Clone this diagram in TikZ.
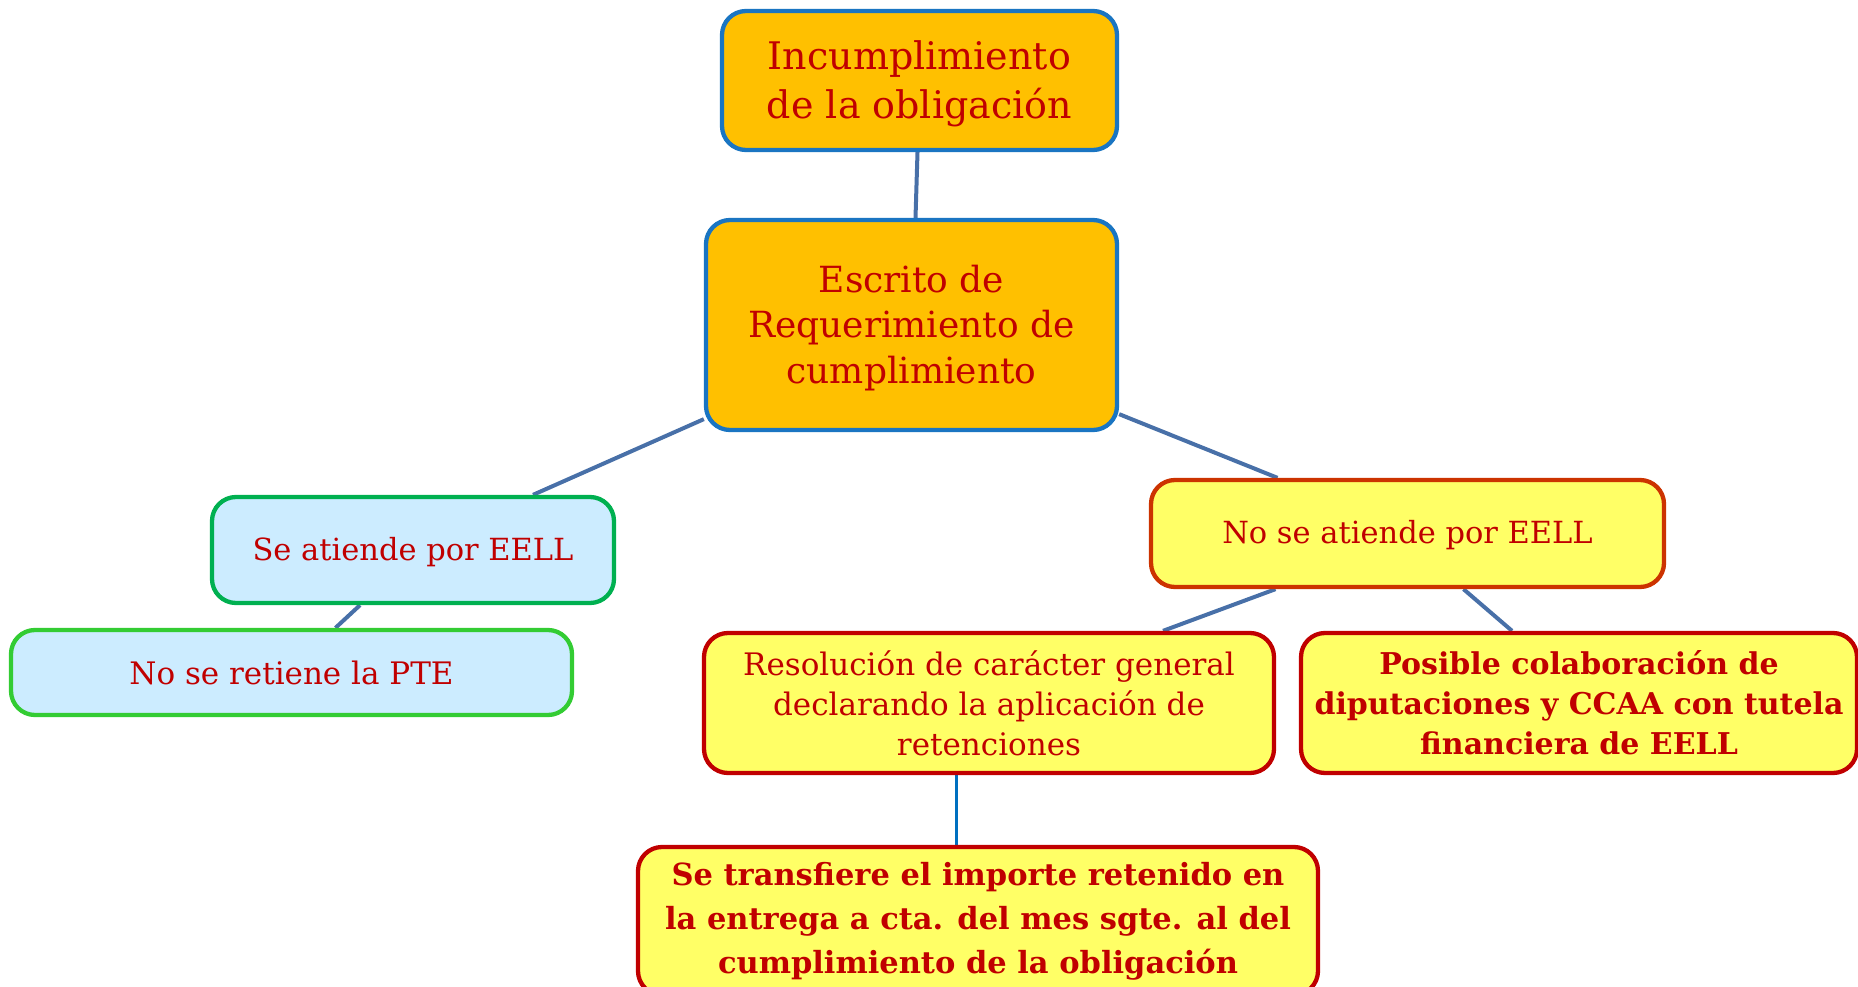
\documentclass[tikz,border=0pt]{standalone}
\usepackage{fontspec}
\setmainfont{DejaVu Serif}
\usetikzlibrary{backgrounds}
\definecolor{txtred}{HTML}{C00000}
\definecolor{orfill}{HTML}{FFC000}
\definecolor{bluebd}{HTML}{1A75C2}
\definecolor{ltblue}{HTML}{CCECFF}
\definecolor{greenA}{HTML}{00B050}
\definecolor{greenB}{HTML}{33CC33}
\definecolor{yelfill}{HTML}{FFFF66}
\definecolor{redbd}{HTML}{C00000}
\definecolor{orbd}{HTML}{CC3300}
\definecolor{conn}{HTML}{4870A8}
\definecolor{connB}{HTML}{0070C0}
\newcommand{\lowertext}[2]{\raisebox{-#1}[\height][\depth]{\begin{tabular}{@{}c@{}}#2\end{tabular}}}
\tikzset{
  box/.style={draw, rounded corners=24pt, line width=4.3pt, align=center,
    text=txtred, inner sep=0pt, anchor=center},
  orbox/.style={box, fill=orfill, draw=bluebd},
  bluebox/.style={box, fill=ltblue},
  yelbox/.style={box, fill=yelfill, draw=redbd},
  link/.style={draw=conn, line width=4pt},
  linkB/.style={draw=connB, line width=3pt}
}
\begin{document}
\begin{tikzpicture}[x=1pt,y=-1pt]
\useasboundingbox (0,0) rectangle (1858,987);
\node[orbox, minimum width=395pt, minimum height=139pt,
  font=\fontsize{38}{48.6}\selectfont] (inc) at (919.5,80.5)
  {\lowertext{3.5pt}{Incumplimiento\\de la obligación}};
\node[orbox, minimum width=411pt, minimum height=210pt,
  font=\fontsize{36}{45.6}\selectfont] (esc) at (911.5,325)
  {\lowertext{3.5pt}{Escrito de\\Requerimiento de\\cumplimiento}};
\node[bluebox, draw=greenA, minimum width=402pt, minimum height=106pt,
  font=\fontsize{30.5}{40}\selectfont] (sea) at (413,550)
  {\lowertext{2pt}{Se atiende por EELL}};
\node[bluebox, draw=greenB, minimum width=561pt, minimum height=85pt,
  font=\fontsize{31}{40}\selectfont] (ret) at (291.5,672.5)
  {No se retiene la PTE};
\node[yelbox, draw=orbd, minimum width=513pt, minimum height=107pt,
  font=\fontsize{30.5}{40}\selectfont] (nsa) at (1407.5,533.5)
  {\lowertext{2pt}{No se atiende por EELL}};
\node[yelbox, minimum width=570pt, minimum height=140pt,
  font=\fontsize{31}{40}\selectfont] (res) at (989,703)
  {Resolución de carácter general\\declarando la aplicación de\\retenciones};
\node[yelbox, minimum width=556pt, minimum height=140pt,
  font=\fontsize{30}{40}\selectfont\bfseries] (pos) at (1579,703)
  {Posible colaboración de\\diputaciones y CCAA con tutela\\financiera de EELL};
\node[yelbox, minimum width=680pt, minimum height=148pt,
  font=\fontsize{30.5}{44}\selectfont\bfseries] (tra) at (978,921)
  {Se transfiere el importe retenido en\\la entrega a cta. del mes sgte. al del\\cumplimiento de la obligación};
\begin{scope}[on background layer]
\draw[link] ([xshift=-2pt]inc.south) -- ([xshift=4pt]esc.north);
\draw[link] ([yshift=13pt]esc.south west) -- ([xshift=120pt]sea.north);
\draw[link] ([yshift=18pt]esc.south east) -- ([xshift=-130pt]nsa.north);
\draw[link] ([xshift=-53pt]sea.south) -- ([xshift=44pt]ret.north);
\draw[link] ([xshift=-132pt]nsa.south) -- ([xshift=174pt]res.north);
\draw[link] ([xshift=56pt]nsa.south) -- ([xshift=-67pt]pos.north);
\draw[linkB] ([xshift=-33pt]res.south) -- ([xshift=-22pt]tra.north);
\end{scope}
\end{tikzpicture}
\end{document}
